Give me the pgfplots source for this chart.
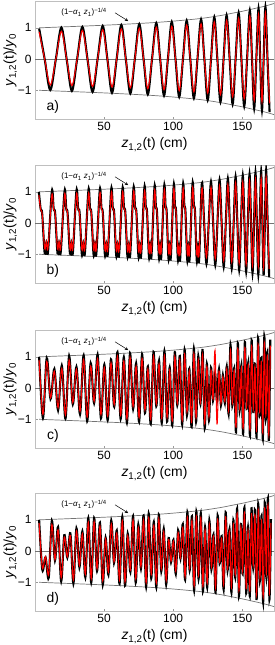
\documentclass[border=0pt]{standalone}
\usepackage{pgfplots}
\pgfplotsset{compat=1.18}
\usepackage{pgfplotstable}
\usepackage{fontspec}
\setmainfont{Liberation Sans}

\pgfplotstableread{
z k r
3 0.98 0.87
7.0 0 0
11.05 -0.99 -0.83
15.1 0 0
19.1 1.01 0.89
22.9 0 0
26.7 -1.02 -0.85
30.5 0 0
34.3 1.03 0.92
38.0 0 0
41.65 -1.05 -0.88
45.3 0 0
49.0 1.06 0.94
52.4 0 0
55.75 -1.08 -0.9
59.1 0 0
62.5 1.09 0.97
65.75 0 0
69.0 -1.1 -0.92
72.25 0 0
75.5 1.12 0.99
78.6 0 0
81.65 -1.13 -0.95
84.7 0 0
87.8 1.15 1.02
90.6 0 0
93.4 -1.17 -0.98
96.2 0 0
99.0 1.19 1.05
101.7 0 0
104.4 -1.21 -1.01
107.1 0 0
109.8 1.23 1.09
112.4 0 0
115.0 -1.25 -1.05
117.6 0 0
120.2 1.27 1.13
122.6 0 0
125.0 -1.31 -1.09
127.4 0 0
129.8 1.34 1.19
132.0 0 0
134.25 -1.37 -1.14
136.5 0 0
138.7 1.4 1.24
140.9 0 0
143.05 -1.44 -1.21
145.2 0 0
147.4 1.48 1.31
149.4 0 0
151.45 -1.51 -1.27
153.5 0 0
155.5 1.55 1.38
157.1 0 0
158.65 -1.58 -1.32
160.2 0 0
161.8 1.61 1.43
163.0 0 0
164.3 -1.64 -1.37
165.5 0 0
166.8 1.67 1.48
168.3 0 0
169.8 -1.7 -1.42
}\dataA

\pgfplotstableread{
z k r
2.8 1.0 0.9
4.1 0.45 0.43
5.2 0.3 0.28
7.0 -0.96 -0.82
8.2 -0.63 -0.58
9.4 -0.93 -0.8
12.2 1.02 0.9
13.5 0.46 0.44
14.6 0.31 0.29
16.3 -0.97 -0.83
17.4 -0.63 -0.58
18.6 -0.94 -0.81
21.4 1.03 0.91
22.6 0.46 0.44
23.6 0.31 0.29
25.3 -0.98 -0.84
26.3 -0.64 -0.59
27.4 -0.95 -0.82
30.0 1.04 0.92
31.2 0.47 0.45
32.3 0.32 0.3
33.9 -1.0 -0.85
35.0 -0.65 -0.6
36.1 -0.97 -0.83
38.7 1.06 0.93
39.8 0.48 0.45
40.8 0.32 0.3
42.4 -1.01 -0.86
43.4 -0.66 -0.61
44.4 -0.98 -0.84
46.9 1.07 0.94
48.1 0.49 0.46
49.1 0.32 0.3
50.6 -1.02 -0.87
51.6 -0.67 -0.62
52.7 -0.99 -0.85
55.2 1.09 0.96
56.3 0.49 0.47
57.3 0.33 0.31
58.8 -1.04 -0.88
59.8 -0.68 -0.63
60.9 -1.01 -0.86
63.3 1.1 0.97
64.4 0.5 0.47
65.4 0.33 0.31
66.9 -1.06 -0.9
67.9 -0.69 -0.64
68.9 -1.02 -0.87
71.3 1.12 0.99
72.4 0.51 0.48
73.4 0.34 0.32
74.9 -1.07 -0.91
75.8 -0.7 -0.65
76.8 -1.04 -0.89
79.2 1.14 1.0
80.2 0.52 0.49
81.1 0.35 0.33
82.5 -1.09 -0.93
83.4 -0.71 -0.66
84.3 -1.06 -0.9
86.5 1.16 1.02
87.5 0.53 0.5
88.3 0.35 0.33
89.7 -1.11 -0.94
90.5 -0.72 -0.67
91.4 -1.08 -0.92
93.5 1.18 1.04
94.5 0.54 0.51
95.3 0.36 0.34
96.6 -1.13 -0.96
97.4 -0.74 -0.68
98.3 -1.1 -0.94
100.4 1.2 1.06
101.3 0.55 0.52
102.1 0.37 0.35
103.4 -1.16 -0.98
104.2 -0.76 -0.7
105.1 -1.13 -0.96
107.1 1.22 1.08
108.1 0.56 0.53
108.9 0.37 0.35
110.2 -1.18 -1.0
111.0 -0.77 -0.71
111.9 -1.15 -0.98
114.0 1.25 1.1
115.0 0.57 0.54
115.8 0.38 0.36
117.1 -1.2 -1.02
117.9 -0.79 -0.73
118.8 -1.17 -1.0
120.8 1.28 1.12
122.45 0 0
124.1 -1.3 -1.1
125.75 0 0
127.4 1.32 1.15
128.95 0 0
130.5 -1.34 -1.14
132.05 0 0
133.6 1.38 1.2
135.1 0 0
136.6 -1.4 -1.2
138.1 0 0
139.6 1.42 1.24
141.0 0 0
142.4 -1.45 -1.24
143.8 0 0
145.2 1.48 1.29
146.5 0 0
147.8 -1.5 -1.28
149.1 0 0
150.4 1.52 1.32
151.6 0 0
152.85 -1.55 -1.32
154.05 0 0
155.3 1.56 1.36
156.4 0 0
157.45 -1.6 -1.36
158.55 0 0
159.6 1.61 1.4
160.6 0 0
161.65 -1.64 -1.39
162.65 0 0
163.7 1.65 1.44
164.6 0 0
165.5 -1.67 -1.42
166.4 0 0
167.3 1.69 1.47
168.4 0 0
169.5 -1.73 -1.47
}\dataB

\pgfplotstableread{
z k r
3.0 1.0 0.9
5.75 -0.96 -0.84
8.5 0.96 0.85
11.25 -0.35 -0.31
14.0 0.61 0.54
16.7 -0.71 -0.63
19.4 0.72 0.63
22.05 -0.98 -0.86
24.7 1.03 0.9
27.35 -0.52 -0.46
30.0 0.68 0.6
32.6 -0.84 -0.74
35.2 1.05 0.92
37.75 -1.06 -0.93
40.3 0.8 0.7
42.8 -0.48 -0.42
45.3 1.07 0.94
47.75 -0.97 -0.85
50.2 0.75 0.66
52.6 -1.03 -0.9
55.0 0.92 0.81
57.35 -0.6 -0.53
59.7 1.15 1.01
62.0 -0.99 -0.87
64.3 0.99 0.87
66.55 -1.11 -0.98
68.8 1.12 0.98
71.0 -0.67 -0.59
73.2 0.79 0.69
75.35 -1.08 -0.95
77.5 1.08 0.95
79.6 -0.8 -0.7
81.7 0.69 0.61
83.75 -1.15 -1.01
85.8 1.16 1.02
87.8 -0.58 -0.51
89.8 0.88 0.77
91.75 -1.12 -0.98
93.7 1.18 1.04
95.6 -1.07 -0.94
97.5 0.66 0.58
99.35 -1.2 -1.05
101.2 1.15 1.01
103.0 -0.55 -0.48
104.8 1.03 0.91
106.55 -1.17 -1.03
108.3 1.23 1.08
110.0 -0.87 -0.76
111.7 0.62 0.55
113.35 -1.25 -1.1
115.0 1.26 1.1
116.6 -1.08 -0.95
118.2 1.02 0.9
119.75 -0.51 -0.45
121.3 1.22 1.07
122.85 -1.29 -1.13
124.4 0.78 0.69
125.9 -1.04 -0.92
127.4 0.65 0.57
128.85 -0.4 -0.35
130.3 0.47 1.2
131.75 -0.4 -1.15
133.2 0.61 0.54
134.6 -0.55 -0.48
136.0 0.41 0.36
137.4 -0.48 -0.42
138.8 0.69 0.61
140.15 -0.83 -0.73
141.5 1.39 1.22
142.85 -0.56 -0.49
144.2 0.64 0.56
145.5 -1.42 -1.25
146.8 1.44 1.27
148.1 -0.72 -0.63
149.4 0.73 0.64
150.65 -1.47 -1.29
151.9 1.48 1.3
153.15 -0.67 -0.59
154.4 0.82 0.72
155.6 -1.52 -1.34
156.8 1.53 1.35
158.0 -0.77 -0.68
159.2 0.78 0.69
160.35 -1.57 -1.38
161.5 1.59 1.4
162.65 -0.88 -0.77
163.8 0.97 0.85
164.9 -1.63 -1.43
166.0 1.65 1.45
167.1 -0.99 -0.87
168.2 1.16 1.02
169.25 -1.69 -1.49
170.3 1.55 1.36
}\dataC

\pgfplotstableread{
z k r
3.0 1.0 0.9
5.3 -0.6 -0.53
7.6 -0.2 -0.18
9.9 -0.86 -0.76
12.2 0.97 0.85
14.45 -0.3 -0.27
16.7 0.77 0.68
18.95 -0.97 -0.85
21.2 0.51 0.45
23.4 -0.21 -0.18
25.6 0.57 0.5
27.8 -1.04 -0.92
30.0 0.73 0.64
32.15 -0.52 -0.46
34.3 0.63 0.55
36.45 -0.84 -0.74
38.6 1.06 0.93
40.7 -1.01 -0.89
42.8 1.06 0.94
44.9 -0.64 -0.56
47.0 0.91 0.8
49.05 -1.08 -0.95
51.1 0.43 0.38
53.15 -0.76 -0.67
55.2 0.98 0.87
57.2 -0.38 -0.34
59.2 0.66 0.58
61.2 -1.05 -0.92
63.2 1.1 0.97
65.15 -1.11 -0.98
67.1 0.56 0.49
69.05 -0.67 -0.59
71.0 1.12 0.99
72.9 -1.01 -0.89
74.8 0.85 0.75
76.7 -0.56 -0.5
78.6 1.14 1.0
80.45 -1.15 -1.01
82.3 1.2 1.06
84.15 -0.87 -0.76
86.0 0.93 0.82
87.8 -1.16 -1.02
89.6 1.17 1.03
91.4 -0.65 -0.57
93.2 0.71 0.62
94.95 -1.07 -0.94
96.7 0.42 0.37
98.45 -0.36 -0.32
100.2 0.36 0.32
101.9 -0.73 -0.64
103.6 0.67 0.59
105.3 -0.24 -0.21
107.0 0.86 0.76
108.65 -0.92 -0.81
110.3 1.24 1.09
111.95 -0.62 -0.55
113.6 1.12 0.98
115.2 -1.26 -1.11
116.8 1.26 1.11
118.4 -0.89 -0.78
120.0 1.21 1.07
121.55 -1.29 -1.13
123.1 0.77 0.68
124.65 -1.17 -1.03
126.2 0.98 0.86
127.7 -0.59 -0.52
129.2 0.53 0.47
130.7 -1.33 -1.17
132.2 1.14 1.0
133.65 -0.4 -0.35
135.1 0.48 0.42
136.55 -1.23 -1.08
138.0 1.24 1.09
139.4 -0.62 -0.55
140.8 0.7 0.61
142.2 -1.33 -1.17
143.6 0.99 0.87
144.95 -0.85 -0.75
146.3 1.36 1.2
147.65 -1.44 -1.27
149.0 0.87 0.77
150.3 -0.73 -0.64
151.6 1.4 1.23
152.9 -1.35 -1.19
154.2 0.75 0.66
155.45 -1.44 -1.27
156.7 1.37 1.2
157.95 -0.54 -0.47
159.2 1.32 1.16
160.4 -1.57 -1.38
161.6 1.51 1.33
162.8 -0.95 -0.84
164.0 1.13 0.99
165.15 -1.64 -1.44
166.3 1.56 1.37
167.45 -0.83 -0.73
168.6 1.68 1.48
169.7 -1.55 -1.36
170.8 1.02 0.9
}\dataD

\pgfplotstableread{
z e
3 1.0
20 1.03
40 1.065
60 1.105
83 1.16
100 1.215
120 1.3
135 1.4
143 1.47
150 1.53
155 1.58
160 1.63
165 1.68
170 1.74
173 1.78
}\env

\pgfplotstableread{
z e
3 -1.0
20 -1.03
40 -1.065
60 -1.105
83 -1.16
100 -1.215
120 -1.3
135 -1.4
143 -1.47
150 -1.53
155 -1.58
160 -1.63
165 -1.68
170 -1.74
173 -1.78
}\envlow

\pgfplotsset{
  panel/.style={
    scale only axis, width=239bp, height=118bp,
    xmin=0, xmax=173, ymin=-1.92, ymax=1.86,
    axis line style={draw=black!25},
    xtick={50,100,150}, ytick={-1,0,1}, yticklabels={−1,0,1},
    tick style={draw=black!40, line width=0.4bp}, major tick length=2.5bp,
    tick align=inside, xtick pos=bottom, ytick pos=left,
    tick label style={font=\fontsize{12}{14}\selectfont},
    /pgf/number format/assume math mode=true,
    xlabel={\textit{z}\textsubscript{1,2}(t) (cm)},
    ylabel={\textit{y}\textsubscript{1,2}(t)/\textit{y}\textsubscript{0}},
    label style={font=\fontsize{14}{16}\selectfont},
    ylabel style={at={(axis description cs:-0.103,0.5)}, anchor=center},
  },
  zeroline/.style={black!55, line width=0.5bp},
  envl/.style={black!55, line width=0.7bp, smooth},
  blk/.style={black, line width=2.1bp, smooth, tension=0.55},
  rd/.style={red, line width=1.05bp, smooth, tension=0.55},
}

\newcommand{\annot}{%
  \node[font=\fontsize{8}{9}\selectfont] at (rel axis cs:0.205,0.905)
    {(1−\textit{α}\textsubscript{1} \textit{z}\textsubscript{1})\textsuperscript{−1/4}};
  \draw[-stealth, line width=0.5bp] (rel axis cs:0.335,0.9) -- (rel axis cs:0.39,0.83);
}

\begin{document}
\begin{tikzpicture}
\begin{axis}[panel, at={(35bp,-1bp)}, anchor=north west]
  \addplot[zeroline] coordinates {(0,0) (173,0)};
  \addplot[envl] table[x=z,y=e] {\env};
  \addplot[envl] table[x=z,y=e] {\envlow};
  \addplot[blk] table[x=z,y=k] {\dataA};
  \addplot[rd] table[x=z,y=r] {\dataA};
  \annot
  \node[font=\fontsize{14}{16}\selectfont] at (rel axis cs:0.075,0.1) {a)};
\end{axis}
\begin{axis}[panel, at={(35bp,-165bp)}, anchor=north west]
  \addplot[zeroline] coordinates {(0,0) (173,0)};
  \addplot[envl] table[x=z,y=e] {\env};
  \addplot[envl] table[x=z,y=e] {\envlow};
  \addplot[blk] table[x=z,y=k] {\dataB};
  \addplot[rd] table[x=z,y=r] {\dataB};
  \annot
  \node[font=\fontsize{14}{16}\selectfont] at (rel axis cs:0.075,0.1) {b)};
\end{axis}
\begin{axis}[panel, at={(35bp,-330bp)}, anchor=north west]
  \addplot[zeroline] coordinates {(0,0) (173,0)};
  \addplot[envl] table[x=z,y=e] {\env};
  \addplot[envl] table[x=z,y=e] {\envlow};
  \addplot[blk] table[x=z,y=k] {\dataC};
  \addplot[rd] table[x=z,y=r] {\dataC};
  \annot
  \node[font=\fontsize{14}{16}\selectfont] at (rel axis cs:0.075,0.1) {c)};
\end{axis}
\begin{axis}[panel, at={(35bp,-493bp)}, anchor=north west]
  \addplot[zeroline] coordinates {(0,0) (173,0)};
  \addplot[envl] table[x=z,y=e] {\env};
  \addplot[envl] table[x=z,y=e] {\envlow};
  \addplot[blk] table[x=z,y=k] {\dataD};
  \addplot[rd] table[x=z,y=r] {\dataD};
  \annot
  \node[font=\fontsize{14}{16}\selectfont] at (rel axis cs:0.075,0.1) {d)};
\end{axis}
\pgfresetboundingbox
\path[use as bounding box] (0,0) rectangle (275bp,-645bp);
\end{tikzpicture}
\end{document}
